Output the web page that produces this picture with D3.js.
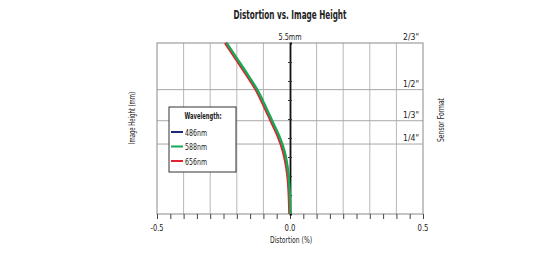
<!DOCTYPE html>
<html>
<head>
  <meta charset="utf-8">
  <title>Distortion vs. Image Height</title>
  <script src="https://d3js.org/d3.v7.min.js"></script>
  <style>
    body { margin: 0; background: #fff; }
    text { font-family: "DejaVu Sans Condensed", "Liberation Sans Narrow", sans-serif; font-stretch: condensed; fill: #222; }
  </style>
</head>
<body>
  <svg id="chart" width="554" height="264"></svg>

  <script>
    // image height (mm) and distortion (%)
    const heights = [0, 0.5, 1.0, 1.5, 2.0, 2.5, 3.0, 3.5, 4.0, 4.5, 5.0, 5.5];
    const green588 = [0.002, 0.0, -0.003, -0.009, -0.020, -0.040, -0.067, -0.094, -0.123, -0.160, -0.199, -0.238];
    const blue486 = [0.0, -0.002, -0.005, -0.011, -0.023, -0.043, -0.070, -0.097, -0.126, -0.163, -0.202, -0.241];
    const red656 = [-0.002, -0.004, -0.007, -0.014, -0.026, -0.046, -0.073, -0.100, -0.129, -0.166, -0.205, -0.244];

    const sensorFormats = ["2/3\"", "1/2\"", "1/3\"", "1/4\""];
    const sensorHeights = [5.5, 4.0, 3.0, 2.25];
    const xTickLabels = ["-0.5", "0.0", "0.5"];
    const xTickValues = [-0.5, 0.0, 0.5];

    const svg = d3.select("#chart");
    const plotLeft = 157, plotRight = 423, plotTop = 43, plotBottom = 214;

    const x = d3.scaleLinear().domain([-0.5, 0.5]).range([plotLeft, plotRight]);
    const y = d3.scaleLinear().domain([0, 5.5]).range([plotBottom, plotTop]);

    // squeeze text to the condensed look of the original
    const fit = (sel, w) => sel.attr("textLength", w).attr("lengthAdjust", "spacingAndGlyphs");

    // title
    svg.append("text")
      .attr("x", 290).attr("y", 19)
      .attr("text-anchor", "middle")
      .attr("font-size", 12).attr("font-weight", "bold")
      .text("Distortion vs. Image Height")
      .call(fit, 113);

    // vertical grid
    svg.append("g").selectAll("line")
      .data(d3.range(-4, 5).filter(d => d !== 0).map(d => d / 10))
      .join("line")
      .attr("x1", d => x(d)).attr("x2", d => x(d))
      .attr("y1", plotTop).attr("y2", plotBottom)
      .attr("stroke", "#b8b8b8").attr("stroke-width", 1);

    // sensor format lines
    svg.append("g").selectAll("line")
      .data(sensorHeights.slice(1))
      .join("line")
      .attr("x1", plotLeft).attr("x2", plotRight)
      .attr("y1", d => y(d)).attr("y2", d => y(d))
      .attr("stroke", "#a8a8a8").attr("stroke-width", 1);

    // frame
    svg.append("rect")
      .attr("x", plotLeft).attr("y", plotTop)
      .attr("width", plotRight - plotLeft).attr("height", plotBottom - plotTop)
      .attr("fill", "none").attr("stroke", "#8a8a8a").attr("stroke-width", 1);

    // bottom ticks
    svg.append("g")
      .attr("transform", `translate(0,${plotBottom})`)
      .call(d3.axisBottom(x).ticks(20).tickSize(5).tickFormat(""))
      .call(g => g.select(".domain").remove())
      .call(g => g.selectAll("line").attr("stroke", "#444"));

    svg.append("g").selectAll("text")
      .data(xTickValues)
      .join("text")
      .attr("x", d => x(d)).attr("y", 231)
      .attr("text-anchor", "middle")
      .attr("font-size", 9)
      .text((d, i) => xTickLabels[i])
      .each(function (d, i) { d3.select(this).call(fit, i === 0 ? 13 : 11); });

    // center axis with ticks
    svg.append("g")
      .attr("transform", `translate(${x(0)},0)`)
      .call(d3.axisRight(y).tickValues(d3.range(1, 9).map(i => i * 5.5 / 9)).tickSize(2).tickFormat(""))
      .call(g => g.select(".domain").attr("stroke", "#111").attr("stroke-width", 1.8))
      .call(g => g.selectAll(".tick line").attr("x1", -2).attr("stroke", "#333"));

    // curves
    const line = d3.line()
      .x(d => x(d[1]))
      .y(d => y(d[0]))
      .curve(d3.curveMonotoneY);

    const series = [
      { name: "486nm", color: "#1c2a78", values: blue486 },
      { name: "656nm", color: "#e2222e", values: red656 },
      { name: "588nm", color: "#16a957", values: green588 }
    ];

    svg.append("g").selectAll("path")
      .data(series)
      .join("path")
      .attr("d", s => line(heights.map((h, i) => [h, s.values[i]])))
      .attr("fill", "none")
      .attr("stroke", s => s.color)
      .attr("stroke-width", 2.4);

    // top labels
    svg.append("text")
      .attr("x", x(0)).attr("y", 40)
      .attr("text-anchor", "middle").attr("font-size", 9)
      .text("5.5mm")
      .call(fit, 23);

    svg.append("g").selectAll("text")
      .data(sensorFormats)
      .join("text")
      .attr("x", 419)
      .attr("y", (d, i) => y(sensorHeights[i]) - 3)
      .attr("text-anchor", "end").attr("font-size", 9)
      .text(d => d)
      .call(fit, 16);

    // axis titles
    svg.append("text")
      .attr("x", 291).attr("y", 243)
      .attr("text-anchor", "middle").attr("font-size", 8.5)
      .text("Distortion (%)")
      .call(fit, 42);

    svg.append("text")
      .attr("transform", "translate(135,118) rotate(-90)")
      .attr("text-anchor", "middle").attr("font-size", 8.5)
      .text("Image Height (mm)")
      .call(fit, 52);

    svg.append("text")
      .attr("transform", "translate(444,120) rotate(-90)")
      .attr("text-anchor", "middle").attr("font-size", 8.5)
      .text("Sensor Format")
      .call(fit, 44);

    // legend
    const legend = svg.append("g").attr("transform", "translate(169,107)");
    legend.append("rect")
      .attr("width", 67).attr("height", 65)
      .attr("fill", "#fff").attr("stroke", "#333").attr("stroke-width", 1);
    legend.append("text")
      .attr("x", 34).attr("y", 12)
      .attr("text-anchor", "middle").attr("font-size", 9).attr("font-weight", "bold")
      .text("Wavelength:")
      .call(fit, 37);

    const legendOrder = [series[0], series[2], series[1]];
    const entries = legend.selectAll("g.entry")
      .data(legendOrder)
      .join("g")
      .attr("class", "entry")
      .attr("transform", (d, i) => `translate(0,${25 + i * 14.5})`);
    entries.append("line")
      .attr("x1", 2).attr("x2", 14)
      .attr("stroke", d => d.color).attr("stroke-width", 2);
    entries.append("text")
      .attr("x", 16).attr("y", 3.5)
      .attr("font-size", 9.5)
      .text(d => d.name)
      .call(fit, 22);
  </script>
</body>
</html>
